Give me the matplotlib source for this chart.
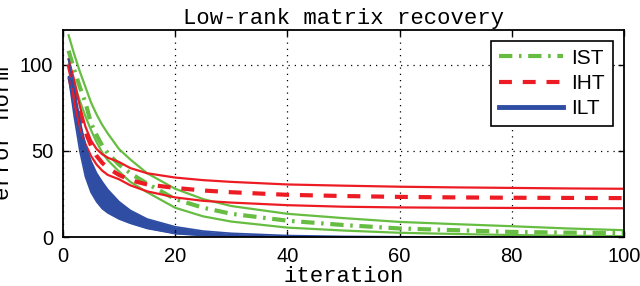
import matplotlib
matplotlib.use("Agg")
import matplotlib.pyplot as plt

iters = [1, 2, 3, 4, 5, 6, 7, 8, 10, 12, 15, 20, 25, 30, 40, 50, 60, 70, 80, 90, 100]

# IST (green): upper, mean, lower
ist_hi = [117, 106, 96, 87, 78, 71, 65, 60, 51, 45, 37, 28, 22, 18, 13.5, 11, 8.8, 7.5, 6.3, 5, 4]
ist_mid = [108, 97, 87, 78, 66, 59, 53, 48.5, 42, 37, 31, 22, 17, 13.5, 9.5, 7, 5, 4, 3, 2.6, 2.3]
ist_lo = [100, 89, 79, 70, 62, 55, 49, 44.5, 38, 32, 26, 17, 12, 9, 5.5, 3.8, 2.5, 1.8, 1.2, 0.8, 0.5]

# IHT (red): upper, mean, lower
iht_hi = [103, 91, 76, 64, 56, 51, 48, 46, 43.5, 40, 37, 34.5, 33, 32, 30.5, 29.8, 29.2, 28.8, 28.5, 28.2, 28]
iht_mid = [100, 86, 72, 61, 53, 47, 43, 40, 36, 33, 30.5, 28.5, 27, 26, 24.5, 23.8, 23.3, 23, 22.8, 22.7, 22.6]
iht_lo = [92, 78, 64, 54, 47, 42, 38.5, 36, 33.5, 30, 26.5, 23, 21, 20, 18.5, 17.6, 17.2, 17, 16.9, 16.8, 16.7]

# ILT (blue): band edges
ilt_hi = [103, 86, 68, 53, 44, 37, 32, 27.5, 20.5, 15.5, 10.5, 6, 3.5, 2.2, 0.9, 0.4, 0.2, 0.1, 0.1, 0.1, 0.1]
ilt_lo = [93, 70, 50, 35, 26, 20.5, 16.5, 14, 10.5, 8, 5, 2, 0.9, 0.4, 0.1, 0.05, 0.05, 0.05, 0.05, 0.05, 0.05]

green = (0.40, 0.74, 0.26)
red = (0.93, 0.11, 0.14)
blue = (0.18, 0.30, 0.64)

mono = "Liberation Mono"
sans = "Liberation Sans"

fig = plt.figure(figsize=(6.4, 2.86), dpi=100)
ax = fig.add_axes([0.0984, 0.171, 0.8766, 0.724])

# IST
ax.plot(iters, ist_hi, color=green, lw=1.6)
ax.plot(iters, ist_lo, color=green, lw=1.6)
ax.plot(iters, ist_mid, color=green, lw=3.0, dashes=(3.2, 1.6, 0.6, 1.6), label="IST")

# IHT
ax.plot(iters, iht_hi, color=red, lw=1.6)
ax.plot(iters, iht_lo, color=red, lw=1.6)
ax.plot(iters, iht_mid, color=red, lw=3.0, dashes=(3.1, 2.6), label="IHT")

# ILT
ax.fill_between(iters, ilt_lo, ilt_hi, color=blue, lw=0)
ax.plot(iters, ilt_hi, color=blue, lw=1.2)
ax.plot(iters, ilt_lo, color=blue, lw=1.2)
ax.plot([], [], color=blue, lw=3.5, label="ILT")

ax.set_xlim(0, 100)
ax.set_ylim(0, 120)
ax.set_xticks([0, 20, 40, 60, 80, 100])
ax.set_yticks([0, 50, 100])
ax.grid(True, color="black", linestyle=(0, (1, 4)), linewidth=0.9)
ax.tick_params(direction="in", top=True, right=True, length=4, width=1,
               labelsize=14.5, pad=7)
for lab in ax.get_xticklabels() + ax.get_yticklabels():
    lab.set_family(sans)
for sp in ax.spines.values():
    sp.set_linewidth(1.3)

ax.set_title("Low-rank matrix recovery", family=mono, fontsize=16, pad=4)
ax.set_xlabel("iteration", family=mono, fontsize=16, labelpad=0)
ax.set_ylabel("error norm", family=mono, fontsize=16, labelpad=4)

leg = ax.legend(loc="upper right", prop={"family": sans, "size": 15},
                handlelength=3.1, handletextpad=0.4, labelspacing=0.3,
                borderpad=0.35, borderaxespad=0.55, fancybox=False,
                framealpha=1, edgecolor="black")
leg.get_frame().set_linewidth(1.2)

fig.savefig("out.png", dpi=100)
